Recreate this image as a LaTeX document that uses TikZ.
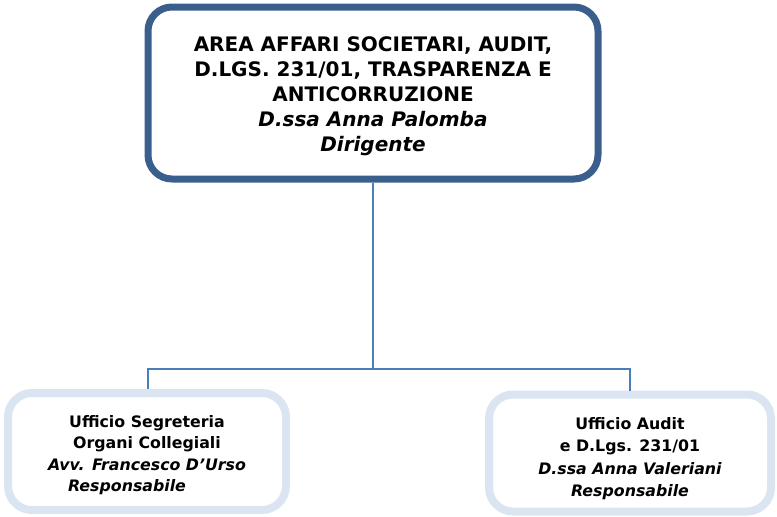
\documentclass[tikz,border=0pt]{standalone}
\usepackage{fontspec}
\setmainfont{DejaVu Sans}
\usepackage{xcolor}
\usepackage{tikz}
\usetikzlibrary{positioning}
\definecolor{headblue}{HTML}{3B5F8C}
\definecolor{paleblue}{HTML}{DBE5F1}
\definecolor{linkblue}{HTML}{4A7EBB}
\tikzset{
    box/.style = {align=center, inner sep=0pt, text centered, rounded corners=24pt, fill=white},
    head_box/.style = {box, draw=headblue, line width=7pt, minimum width=450pt, minimum height=172pt,
        font=\fontsize{20}{25}\selectfont\bfseries},
    office_box/.style = {box, draw=paleblue, line width=8pt, minimum height=117pt,
        font=\fontsize{15.8}{21.5}\selectfont\bfseries}
}
\tikzset{
    link/.style = {draw=linkblue, line width=1.4pt}
}

\begin{document}
\begin{tikzpicture}[x=1pt, y=-1pt]
            \useasboundingbox (0,0) rectangle (777,517);
            % organigramma
            \node [head_box] (area) at (373,93)
                {\\[-3pt]AREA AFFARI SOCIETARI, AUDIT,\\
                 D.LGS. 231/01, TRASPARENZA E\\
                 ANTICORRUZIONE\\
                 \textit{D.ssa Anna Palomba}\\
                 \textit{Dirigente}};
            \node [office_box, minimum width=278pt] (segreteria) at (147,451.5)
                {\\[-2pt]Ufficio Segreteria\\
                 Organi Collegiali\\
                 \textit{Avv. Francesco D'Urso}\\
                 \textit{Responsabile}\hspace*{40pt}};
            \node [office_box, minimum width=282pt, font=\fontsize{15.8}{22.2}\selectfont\bfseries] (audit) at (630,453)
                {\\[1pt]Ufficio Audit\\
                 e D.Lgs. 231/01\\
                 \textit{D.ssa Anna Valeriani}\\
                 \textit{Responsabile}};
            \coordinate (fork) at (373,369);
            \draw [link] (area.south) -- (fork);
            \draw [link] (fork) -| (segreteria.north -| 148,0);
            \draw [link] (fork) -| (audit.north);
\end{tikzpicture}
\end{document}
